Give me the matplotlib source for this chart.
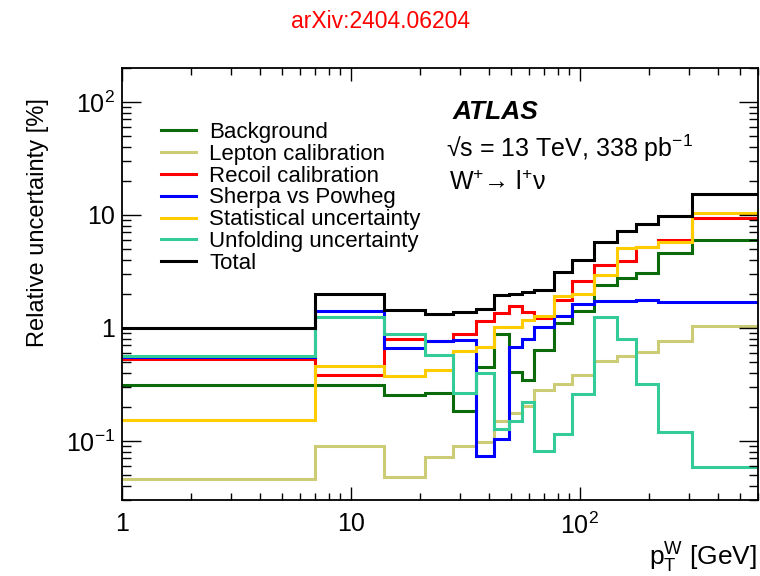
import numpy as np
import matplotlib
matplotlib.use("Agg")
import matplotlib.pyplot as plt
from matplotlib.ticker import FixedLocator, FixedFormatter, LogLocator, NullFormatter

plt.rcParams['font.family'] = ['Liberation Sans', 'DejaVu Sans']
plt.rcParams['mathtext.default'] = 'regular'

# pT(W) binning [GeV]
edges = [0, 7, 14, 21, 28, 35, 42, 49, 56, 63, 77, 92, 115, 145, 175, 220, 310, 600]

# relative uncertainties per bin [%]
background = [0.315, 0.315, 0.254, 0.266, 0.185, 0.449, 0.885, 0.408, 0.347,
              0.634, 1.11, 1.40, 2.39, 2.79, 3.07, 4.61, 5.97]
lepton_calib = [0.046, 0.091, 0.048, 0.072, 0.090, 0.097, 0.151, 0.177, 0.203,
                0.283, 0.32, 0.385, 0.514, 0.561, 0.613, 0.772, 1.03]
recoil_calib = [0.53, 0.386, 0.80, 0.77, 0.89, 1.16, 1.36, 1.56, 1.39,
                1.23, 1.78, 2.62, 3.6, 3.92, 5.21, 6.0, 9.35]
sherpa_powheg = [0.55, 1.41, 0.665, 0.77, 0.78, 0.073, 0.103, 0.675, 0.80,
                 1.01, 1.27, 1.63, 1.74, 1.72, 1.76, 1.71, 1.68]
statistical = [0.152, 0.458, 0.375, 0.428, 0.628, 0.677, 1.01, 1.01, 1.18,
               1.27, 1.91, 2.01, 2.93, 5.05, 5.25, 5.75, 10.5]
unfolding = [0.565, 1.26, 0.885, 0.573, 0.266, 0.395, 0.128, 0.151, 0.221,
             0.081, 0.115, 0.258, 1.26, 0.79, 0.32, 0.119, 0.059]
total = [1.0, 2.01, 1.43, 1.33, 1.37, 1.48, 1.95, 2.01, 2.07,
         2.16, 3.11, 4.02, 5.73, 7.26, 8.4, 9.73, 15.3]

series = [
    ("Background", background, "#0b6b0b"),
    ("Lepton calibration", lepton_calib, "#cccc77"),
    ("Recoil calibration", recoil_calib, "#ff0000"),
    ("Sherpa vs Powheg", sherpa_powheg, "#0000ff"),
    ("Statistical uncertainty", statistical, "#ffcc00"),
    ("Unfolding uncertainty", unfolding, "#33cc99"),
    ("Total", total, "#000000"),
]

fig = plt.figure(figsize=(7.6, 5.76), dpi=100)
ax = fig.add_axes([0.1605, 0.132, 0.837, 0.750])

for label, vals, col in series:
    ax.stairs(vals, edges, baseline=None, color=col, lw=2.2, label=label)

ax.set_xscale("log")
ax.set_yscale("log")
ax.set_xlim(1, 600)
ax.set_ylim(0.03, 200)

ax.xaxis.set_major_locator(FixedLocator([1, 10, 100]))
ax.xaxis.set_major_formatter(FixedFormatter(["1", "10", "10$^{2}$"]))
ax.yaxis.set_major_locator(FixedLocator([0.1, 1, 10, 100]))
ax.yaxis.set_major_formatter(FixedFormatter(["10$^{-1}$", "1", "10", "10$^{2}$"]))
for axis in (ax.xaxis, ax.yaxis):
    axis.set_minor_locator(LogLocator(base=10, subs=np.arange(2, 10), numticks=20))
    axis.set_minor_formatter(NullFormatter())

ax.tick_params(which="both", direction="in", top=True, right=True, labelsize=18, width=1.0)
ax.tick_params(axis="x", which="major", length=9.5, pad=9)
ax.tick_params(axis="x", which="minor", length=4.8)
ax.tick_params(axis="y", which="major", length=13.5, pad=5)
ax.tick_params(axis="y", which="minor", length=6.8)
for sp in ax.spines.values():
    sp.set_linewidth(1.3)

leg = ax.legend(loc="upper left", bbox_to_anchor=(0.048, 0.896), frameon=False,
                fontsize=16, handlelength=1.55, handletextpad=0.6,
                labelspacing=0.04, borderaxespad=0.0)

ax.text(0.520, 0.898, "ATLAS", transform=ax.transAxes, fontsize=19,
        fontweight="bold", fontstyle="italic", va="center")
ax.text(0.510, 0.815, "√s = 13 TeV, 338 pb$^{-1}$", transform=ax.transAxes,
        fontsize=18, va="center")
ax.text(0.514, 0.735, "W$^{+}$→ l$^{+}$ν", transform=ax.transAxes,
        fontsize=18, va="center")

fig.text(0.5, 1 - 22 / 576, "arXiv:2404.06204", color="#ff0000", fontsize=16.5,
         ha="center", va="center")
fig.text(0.05, 1 - 98 / 576, "Relative uncertainty [%]", rotation=90,
         fontsize=17, ha="center", va="top")
fig.text(757 / 760, 1 - 558 / 576, "p$_{T}^{W}$ [GeV]", fontsize=19,
         ha="right", va="center")

fig.savefig("out.png", dpi=100)
